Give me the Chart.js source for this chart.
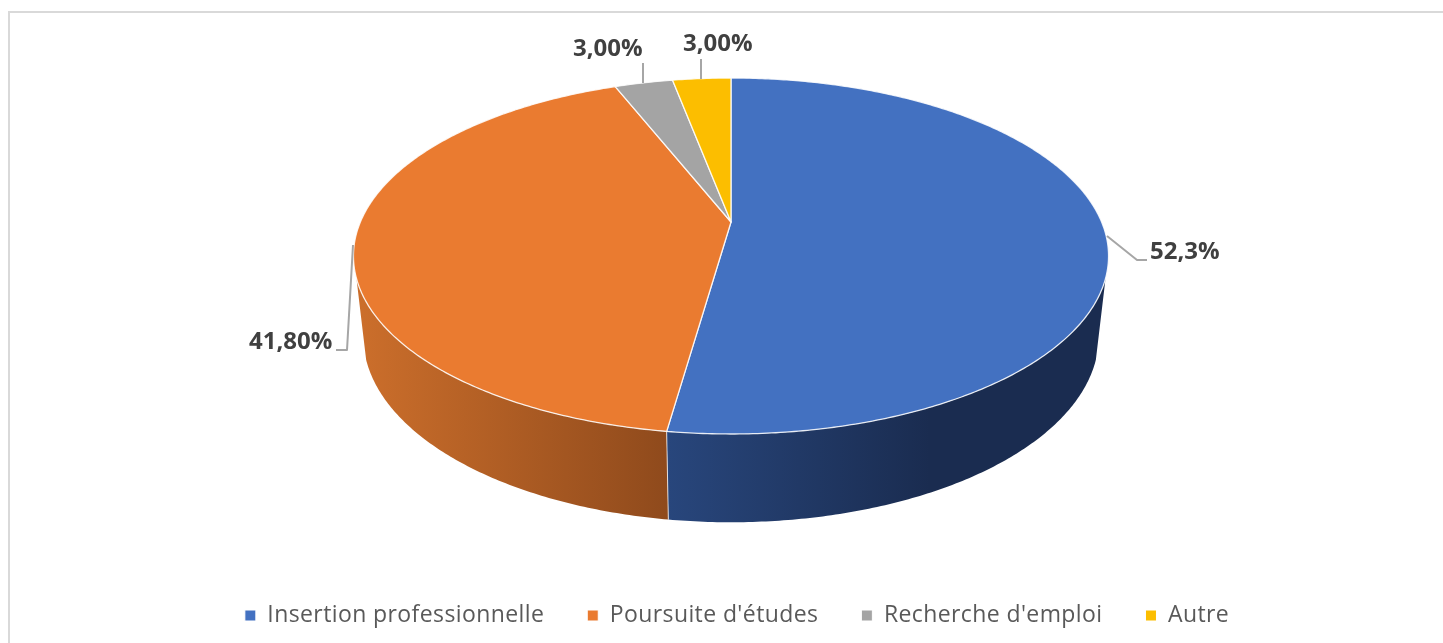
<!DOCTYPE html>
<html lang="fr">
<head>
    <meta charset="UTF-8">
    <title>Situation après le diplôme</title>
    <style>
        html, body { margin: 0; height: 100%; background: #fff; overflow: hidden; }
        #box {
            position: absolute;
            left: 8px; top: 11px; right: 0; bottom: 0;
            border-left: 2px solid #d9d9d9;
            border-top: 2px solid #d9d9d9;
        }
        #wrap { position: absolute; left: 0; top: 0; width: 1443px; height: 643px; }
    </style>
    <script src="https://cdn.jsdelivr.net/npm/chart.js"></script>
</head>
<body>
<div id="box"></div>
<div id="wrap"><canvas id="pie"></canvas></div>

<script>
    const categories = ['Insertion professionnelle', "Poursuite d'études", "Recherche d'emploi", 'Autre'];
    const shares = [52.3, 41.8, 3, 3];
    const shareLabels = ['52,3%', '41,80%', '3,00%', '3,00%'];
    const colors = ['#4371c1', '#ea7b30', '#a4a4a4', '#fcbe00'];

    // the 3D look: a circle seen in perspective, top face and bottom face of the disc
    const tilt = 0.191;
    const topFace = { cx: 731, cy: 222, rx: 370.6, ry: 171.5 };
    const bottomFace = { cx: 731, cy: 301, rx: 361, ry: 179 };
    const wallFrom = 108 * Math.PI / 180;
    const wallTo = 252 * Math.PI / 180;
    const wallShades = [
        { x0: 668, x1: 930, from: '#28467c', to: '#1a2c50' },
        { x0: 362, x1: 668, from: '#cb6e2b', to: '#8f4a1c' }
    ];

    // label position and leader line for each slice
    const callouts = [
        { x: 1150, y: 252, line: [[1107, 236], [1137, 260], [1147, 260]] },
        { x: 249, y: 342, line: [[353, 245], [347, 350], [336, 350]] },
        { x: 573, y: 49, line: [[643, 63], [643, 83]] },
        { x: 683, y: 44, line: [[701, 59], [701, 79]] }
    ];

    function project(face, theta) {
        const w = 1 + tilt * Math.cos(theta);
        return {
            x: face.cx + face.rx * Math.sin(theta) / w,
            y: face.cy - face.ry * Math.cos(theta) / w
        };
    }

    function traceRim(ctx, face, from, to) {
        const steps = Math.max(2, Math.ceil(Math.abs(to - from) / 0.01));
        for (let i = 0; i <= steps; i++) {
            const p = project(face, from + (to - from) * i / steps);
            ctx.lineTo(p.x, p.y);
        }
    }

    const disc3d = {
        id: 'disc3d',
        // legend text is spaced wider than the installed font, canvas resets this on resize
        beforeLayout(chart) { chart.ctx.letterSpacing = '0.4px'; },
        beforeDraw(chart) { chart.ctx.letterSpacing = '0.4px'; },
        beforeDatasetsDraw(chart) {
            const ctx = chart.ctx;
            const arcs = chart.getDatasetMeta(0).data;
            const quarter = Math.PI / 2;
            ctx.save();
            ctx.lineJoin = 'round';
            ctx.letterSpacing = '0px';

            // side wall, only the part facing us
            arcs.forEach((arc, i) => {
                const from = Math.max(arc.startAngle + quarter, wallFrom);
                const to = Math.min(arc.endAngle + quarter, wallTo);
                if (to <= from || !wallShades[i]) return;
                const shade = wallShades[i];
                const grad = ctx.createLinearGradient(shade.x0, 0, shade.x1, 0);
                grad.addColorStop(0, shade.from);
                grad.addColorStop(1, shade.to);
                ctx.beginPath();
                traceRim(ctx, topFace, from, to);
                traceRim(ctx, bottomFace, to, from);
                ctx.closePath();
                ctx.fillStyle = grad;
                ctx.fill();
            });

            // seam between the two walls
            const seam = arcs[0].endAngle + quarter;
            const a = project(topFace, seam);
            const b = project(bottomFace, seam);
            ctx.beginPath();
            ctx.moveTo(a.x, a.y);
            ctx.lineTo(b.x, b.y);
            ctx.strokeStyle = 'rgba(255,255,255,0.75)';
            ctx.lineWidth = 1;
            ctx.stroke();

            // top face
            arcs.forEach(arc => {
                ctx.beginPath();
                ctx.moveTo(topFace.cx, topFace.cy);
                traceRim(ctx, topFace, arc.startAngle + quarter, arc.endAngle + quarter);
                ctx.closePath();
                ctx.fillStyle = arc.options.backgroundColor;
                ctx.fill();
                ctx.strokeStyle = 'rgba(255,255,255,0.85)';
                ctx.lineWidth = 1.3;
                ctx.stroke();
            });

            // leader lines and labels
            callouts.forEach((c, i) => {
                ctx.beginPath();
                c.line.forEach((p, j) => j ? ctx.lineTo(p[0], p[1]) : ctx.moveTo(p[0], p[1]));
                ctx.strokeStyle = '#a6a6a6';
                ctx.lineWidth = 2;
                ctx.stroke();
                ctx.font = 'bold 24px "Open Sans"';
                ctx.fillStyle = '#404040';
                ctx.textAlign = 'left';
                ctx.textBaseline = 'middle';
                ctx.fillText(shareLabels[i], c.x, c.y);
            });
            ctx.restore();
            return false;
        }
    };

    new Chart(document.getElementById('pie'), {
        type: 'pie',
        data: {
            labels: categories,
            datasets: [{
                data: shares,
                backgroundColor: colors,
                borderColor: '#fff',
                borderWidth: 1
            }]
        },
        options: {
            responsive: true,
            maintainAspectRatio: false,
            animation: false,
            layout: { padding: { left: 31, bottom: 6 } },
            plugins: {
                tooltip: { enabled: false },
                legend: {
                    position: 'bottom',
                    labels: {
                        boxWidth: 11,
                        boxHeight: 11,
                        padding: 43,
                        color: '#595959',
                        font: { family: '"Open Sans"', size: 23 }
                    }
                }
            }
        },
        plugins: [disc3d]
    });
</script>
</body>
</html>
